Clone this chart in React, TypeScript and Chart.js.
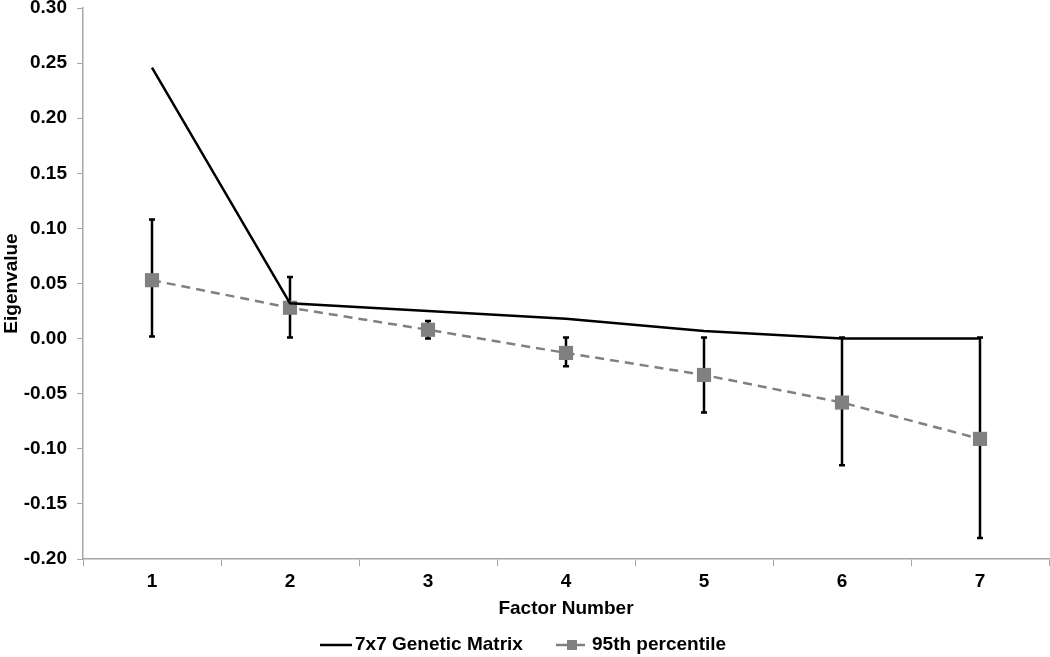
import React, { useEffect, useRef } from "react";
import { Chart, registerables } from "chart.js";

Chart.register(...registerables);

const categories = ["1", "2", "3", "4", "5", "6", "7"];
const geneticMatrix = [0.246, 0.032, 0.025, 0.018, 0.007, 0.0, 0.0];
const percentile95 = [0.053, 0.028, 0.008, -0.013, -0.033, -0.058, -0.091];
const errLow = [0.002, 0.001, 0.0, -0.025, -0.067, -0.115, -0.181];
const errHigh = [0.108, 0.056, 0.016, 0.001, 0.001, 0.001, 0.001];
const seriesNames = ["7x7 Genetic Matrix", "95th percentile"];

const FONT = "'Liberation Sans', Arial, sans-serif";

const errorBarPlugin = {
  id: "errorBars",
  beforeDatasetsDraw(chart: any) {
    const { ctx, scales } = chart;
    const x = scales.x;
    const y = scales.y;
    ctx.save();
    ctx.strokeStyle = "#000";
    ctx.lineWidth = 2.5;
    ctx.lineCap = "butt";
    errLow.forEach((lo, i) => {
      const px = x.getPixelForValue(i);
      const yl = y.getPixelForValue(lo);
      const yh = y.getPixelForValue(errHigh[i]);
      ctx.beginPath();
      ctx.moveTo(px, yl);
      ctx.lineTo(px, yh);
      ctx.moveTo(px - 3, yl);
      ctx.lineTo(px + 3, yl);
      ctx.moveTo(px - 3, yh);
      ctx.lineTo(px + 3, yh);
      ctx.stroke();
    });
    ctx.restore();
  },
};

const legendPlugin = {
  id: "customLegend",
  afterDraw(chart: any) {
    const { ctx } = chart;
    const cy = 645;
    ctx.save();
    ctx.font = `bold 19px ${FONT}`;
    ctx.fillStyle = "#000";
    ctx.textBaseline = "middle";
    ctx.textAlign = "left";
    // item 1
    ctx.strokeStyle = "#000";
    ctx.lineWidth = 2.5;
    ctx.beginPath();
    ctx.moveTo(320, cy);
    ctx.lineTo(352, cy);
    ctx.stroke();
    ctx.fillText(seriesNames[0], 355, cy);
    // item 2
    ctx.strokeStyle = "#808080";
    ctx.beginPath();
    ctx.moveTo(556, cy);
    ctx.lineTo(585, cy);
    ctx.stroke();
    ctx.fillStyle = "#808080";
    ctx.fillRect(567, cy - 5, 10, 10);
    ctx.fillStyle = "#000";
    ctx.fillText(seriesNames[1], 592, cy);
    ctx.restore();
  },
};

export default function App() {
  const ref = useRef<HTMLCanvasElement>(null);
  useEffect(() => {
    if (!ref.current) return;
    const chart = new Chart(ref.current, {
      type: "line",
      data: {
        labels: categories,
        datasets: [
          {
            label: seriesNames[0],
            data: geneticMatrix,
            borderColor: "#000",
            borderWidth: 2.5,
            pointRadius: 0,
            tension: 0,
          },
          {
            label: seriesNames[1],
            data: percentile95,
            borderColor: "#808080",
            borderWidth: 2.5,
            borderDash: [9, 6],
            pointStyle: "rect",
            pointRadius: 10,
            pointBackgroundColor: "#808080",
            pointBorderColor: "#808080",
            pointBorderWidth: 0,
            tension: 0,
          },
        ],
      },
      options: {
        animation: false,
        responsive: true,
        maintainAspectRatio: false,
        layout: { autoPadding: false, padding: { top: 8, right: 1, left: 0, bottom: 36.4 } },
        plugins: {
          legend: { display: false },
          tooltip: { enabled: false },
        },
        scales: {
          x: {
            offset: true,
            afterFit: (s: any) => {
              s.paddingRight = 0;
              s.paddingLeft = 0;
            },
            grid: {
              offset: true,
              drawOnChartArea: false,
              color: "#a6a6a6",
              tickLength: 7,
            },
            border: { color: "#a6a6a6", width: 1.5 },
            ticks: {
              color: "#000",
              font: { family: FONT, size: 19, weight: "bold" },
              padding: 4,
              maxRotation: 0,
            },
            title: {
              display: true,
              text: "Factor Number",
              color: "#000",
              font: { family: FONT, size: 19, weight: "bold" },
              padding: { top: 1, bottom: 0 },
            },
          },
          y: {
            min: -0.2,
            max: 0.3,
            afterFit: (s: any) => {
              s.paddingTop = 0;
              s.paddingBottom = 0;
              s.width = 83;
            },
            grid: {
              drawOnChartArea: false,
              color: "#a6a6a6",
              tickLength: 6,
            },
            border: { color: "#a6a6a6", width: 1.5 },
            ticks: {
              stepSize: 0.05,
              color: "#000",
              font: { family: FONT, size: 19, weight: "bold" },
              padding: 10,
              callback: (v: any) => Number(v).toFixed(2),
            },
            title: {
              display: true,
              text: "Eigenvalue",
              color: "#000",
              font: { family: FONT, size: 19, weight: "bold" },
              padding: { top: 0, bottom: 1 },
            },
          },
        },
      },
      plugins: [errorBarPlugin, legendPlugin],
    });
    return () => chart.destroy();
  }, []);
  return (
    <div style={{ position: "fixed", left: 0, top: 0, width: 1050, height: 657 }}>
      <canvas ref={ref} />
    </div>
  );
}
